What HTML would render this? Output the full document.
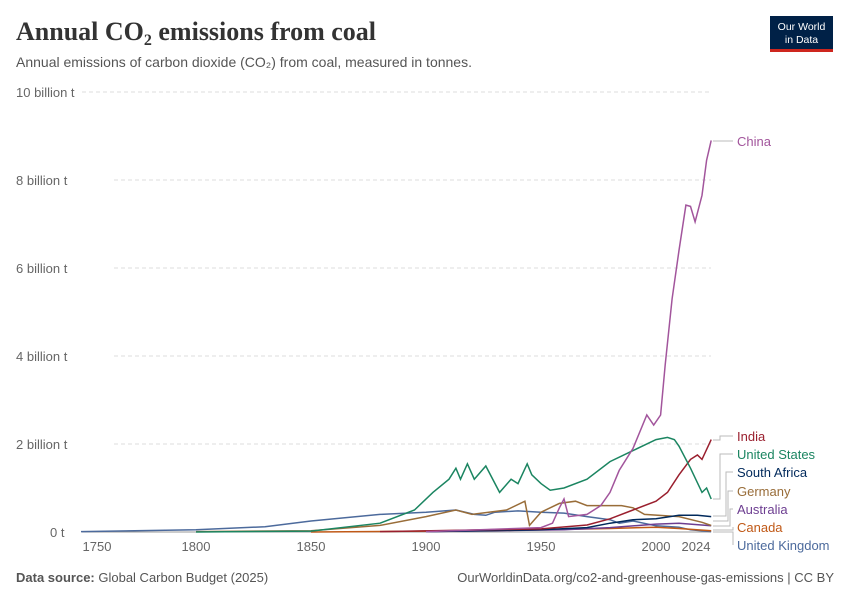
<!DOCTYPE html>
<html><head><meta charset="utf-8"><style>
body{margin:0;background:#fff;width:850px;height:600px;overflow:hidden;font-family:"Liberation Sans",sans-serif}
</style></head><body>
<svg width="850" height="600" xmlns="http://www.w3.org/2000/svg" font-family="Liberation Sans, sans-serif">
<text x="16" y="40" font-family="Liberation Serif, serif" font-size="26" font-weight="bold" fill="#333">Annual CO<tspan font-size="16" dy="5">2</tspan><tspan dy="-5"> emissions from coal</tspan></text>
<text x="16" y="67" font-size="14" fill="#555">Annual emissions of carbon dioxide (CO₂) from coal, measured in tonnes.</text>
<rect x="770" y="16" width="63" height="34" fill="#002147"/><rect x="770" y="49" width="63" height="3" fill="#ce261e"/>
<text x="801.5" y="30" font-size="10.5" fill="#fff" text-anchor="middle">Our World</text>
<text x="801.5" y="43" font-size="10.5" fill="#fff" text-anchor="middle">in Data</text>
<g stroke="#ddd" stroke-dasharray="4,3">
<line x1="82" y1="92" x2="711" y2="92"/><line x1="114" y1="180" x2="711" y2="180"/><line x1="114" y1="268" x2="711" y2="268"/><line x1="114" y1="356" x2="711" y2="356"/><line x1="114" y1="444" x2="711" y2="444"/>
</g>
<g font-size="13" fill="#666">
<text x="16" y="97">10 billion t</text><text x="16" y="185">8 billion t</text><text x="16" y="273">6 billion t</text><text x="16" y="361">4 billion t</text><text x="16" y="449">2 billion t</text><text x="50" y="537">0 t</text>
</g>
<line x1="82" y1="532" x2="711" y2="532" stroke="#999"/>
<g font-size="13" fill="#666" text-anchor="middle">
<text x="97" y="551">1750</text><text x="196" y="551">1800</text><text x="311" y="551">1850</text><text x="426" y="551">1900</text><text x="541" y="551">1950</text><text x="656" y="551">2000</text><text x="696" y="551">2024</text>
</g>
<g fill="none" stroke-width="1.5" id="lines"></g>
<g fill="none" stroke="#bbb" stroke-width="1">
<path d="M713 141H733"/>
<path d="M713 440H720V436H733"/>
<path d="M713 499H720V454H733"/>
<path d="M713 516H726V472H733"/>
<path d="M713 521H728V491H733"/>
<path d="M713 526H730V509H733"/>
<path d="M713 530H733V527"/>
<path d="M713 532H733V545"/>
</g>
<g font-size="13">
<text x="737" y="146" fill="#a2559c">China</text>
<text x="737" y="441" fill="#9a1f2e">India</text>
<text x="737" y="459" fill="#1b8561">United States</text>
<text x="737" y="477" fill="#00295b">South Africa</text>
<text x="737" y="496" fill="#996d39">Germany</text>
<text x="737" y="514" fill="#6d3e91">Australia</text>
<text x="737" y="532" fill="#c05917">Canada</text>
<text x="737" y="550" fill="#4c6a9c">United Kingdom</text>
</g>
<text x="16" y="582" font-size="13" fill="#555"><tspan font-weight="bold">Data source:</tspan> Global Carbon Budget (2025)</text>
<text x="834" y="582" font-size="13" fill="#555" text-anchor="end">OurWorldinData.org/co2-and-greenhouse-gas-emissions | CC BY</text>
</svg>
<script>
const X=y=>81+(y-1750)*2.3, Y=b=>532-44*b;
const S=[
["#4c6a9c",[[1750,0.01],[1800,0.05],[1830,0.12],[1850,0.25],[1880,0.4],[1900,0.45],[1913,0.5],[1921,0.4],[1926,0.38],[1930,0.45],[1940,0.48],[1950,0.45],[1960,0.43],[1970,0.35],[1980,0.28],[1984,0.2],[1990,0.25],[2000,0.14],[2010,0.11],[2015,0.05],[2024,0.01]]],
["#c05917",[[1850,0],[1900,0.02],[1950,0.05],[1980,0.08],[2000,0.11],[2010,0.08],[2024,0.03]]],
["#6d3e91",[[1900,0.01],[1960,0.05],[1980,0.1],[2000,0.18],[2010,0.2],[2024,0.14]]],
["#996d39",[[1800,0.01],[1850,0.03],[1880,0.15],[1900,0.35],[1913,0.5],[1920,0.4],[1935,0.5],[1943,0.7],[1945,0.15],[1950,0.45],[1958,0.65],[1965,0.7],[1970,0.6],[1985,0.6],[1990,0.55],[1995,0.4],[2010,0.35],[2020,0.22],[2024,0.15]]],
["#00295b",[[1900,0.01],[1950,0.05],[1970,0.1],[1980,0.2],[1990,0.28],[2000,0.3],[2010,0.38],[2018,0.38],[2024,0.35]]],
["#9a1f2e",[[1880,0.01],[1950,0.07],[1970,0.16],[1980,0.3],[1990,0.5],[2000,0.7],[2005,0.9],[2010,1.3],[2015,1.65],[2018,1.75],[2020,1.65],[2024,2.1]]],
["#1b8561",[[1800,0],[1850,0.02],[1880,0.2],[1895,0.5],[1903,0.9],[1910,1.2],[1913,1.45],[1915,1.2],[1918,1.55],[1921,1.2],[1926,1.5],[1932,0.9],[1937,1.2],[1940,1.1],[1944,1.55],[1946,1.3],[1950,1.1],[1954,0.95],[1960,1.0],[1970,1.2],[1980,1.6],[1990,1.85],[2000,2.1],[2005,2.15],[2008,2.1],[2010,1.95],[2015,1.45],[2020,0.9],[2022,1.0],[2024,0.75]]],
["#a2559c",[[1900,0.01],[1950,0.1],[1955,0.2],[1958,0.55],[1960,0.75],[1962,0.35],[1970,0.4],[1976,0.6],[1980,0.9],[1984,1.4],[1990,1.9],[1996,2.66],[1999,2.43],[2002,2.66],[2004,3.8],[2007,5.3],[2010,6.4],[2013,7.43],[2015,7.4],[2017,7.05],[2020,7.65],[2022,8.45],[2024,8.9]]]
];
const g=document.getElementById('lines');
for(const [c,p] of S){const e=document.createElementNS('http://www.w3.org/2000/svg','path');
e.setAttribute('d','M'+p.map(q=>X(q[0]).toFixed(1)+' '+Y(q[1]).toFixed(1)).join('L'));e.setAttribute('stroke',c);g.appendChild(e);}
</script>
</body></html>
